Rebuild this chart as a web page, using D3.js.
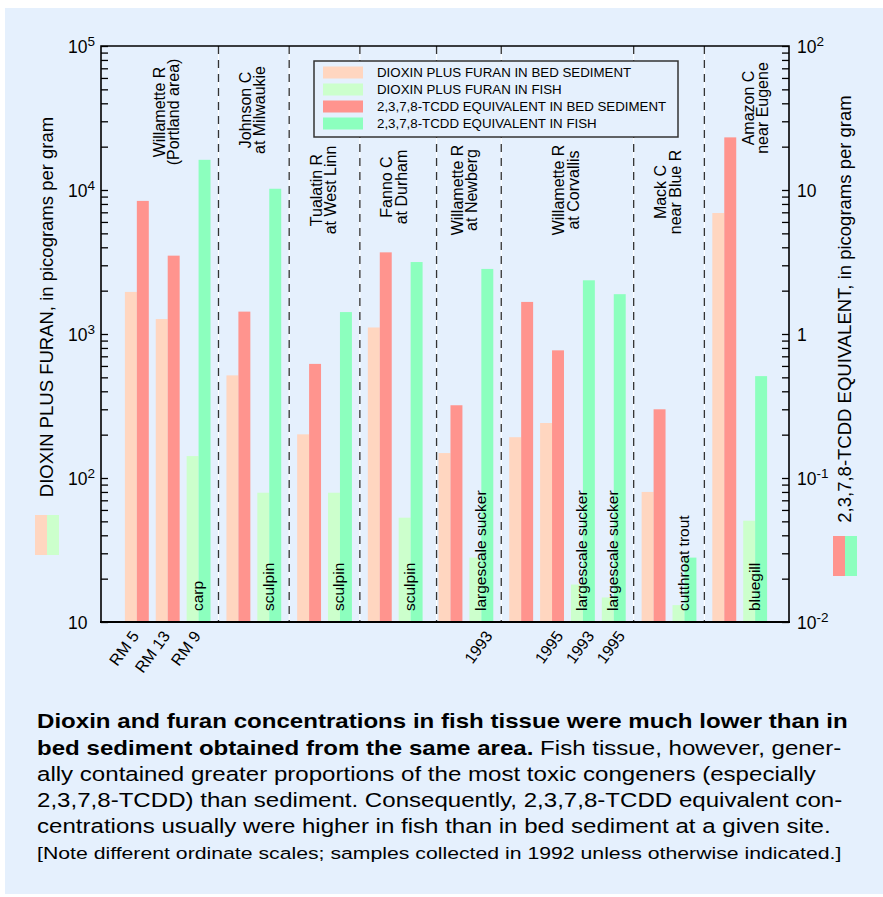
<!DOCTYPE html>
<html>
<head>
<meta charset="utf-8">
<script src="https://cdn.jsdelivr.net/npm/d3@7"></script>
<style>
  body { margin: 0; background: #fff; }
  svg { display: block; }
  text { font-family: "Liberation Sans", Arial, Helvetica, sans-serif; fill: #000; }
</style>
</head>
<body>
<svg id="chart" width="883" height="897"></svg>
<script>
// sites, one per group (two-line labels)
var siteNames = ["Willamette R", "Johnson C", "Tualatin R", "Fanno C", "Willamette R", "Willamette R", "Mack C", "Amazon C"];
var siteWhere = ["(Portland area)", "at Milwaukie", "at West Linn", "at Durham", "at Newberg", "at Corvallis", "near Blue R", "near Eugene"];

// samples, each drawn as a pair of bars
var sampleSite = [0, 0, 0, 1, 1, 2, 2, 3, 3, 4, 4, 5, 5, 5, 5, 6, 6, 7, 7];
var sampleMedium = ["sed", "sed", "fish", "sed", "fish", "sed", "fish", "sed", "fish", "sed", "fish",
                    "sed", "sed", "fish", "fish", "sed", "fish", "sed", "fish"];
var sampleLabel = ["RM 5", "RM 13", "RM 9", "", "", "", "", "", "", "", "1993",
                   "", "1995", "1993", "1995", "", "", "", ""];
var fishSpecies = ["", "", "carp", "", "sculpin", "", "sculpin", "", "sculpin", "", "largescale sucker",
                   "", "", "largescale sucker", "largescale sucker", "", "cutthroat trout", "", "bluegill"];

// picograms per gram
var dioxinFuran = [1960, 1270, 142, 516, 79, 201, 79, 1110, 53, 149, 28,
                   192, 241, 18.2, 14.8, 80, 13.1, 6920, 50.5];
var tcddEquiv = [8.4, 3.5, 16.2, 1.43, 10.2, 0.62, 1.42, 3.69, 3.16, 0.32, 2.83,
                 1.67, 0.77, 2.36, 1.89, 0.30, 0.028, 23.2, 0.51];

var leftTicks = [10, 100, 1000, 10000, 100000];
var leftTickLabels = ["10", "10^2", "10^3", "10^4", "10^5"];
var rightTicks = [0.01, 0.1, 1, 10, 100];
var rightTickLabels = ["10^-2", "10^-1", "1", "10", "10^2"];

var legendLabels = ["DIOXIN PLUS FURAN IN BED SEDIMENT", "DIOXIN PLUS FURAN IN FISH",
                    "2,3,7,8-TCDD EQUIVALENT IN BED SEDIMENT", "2,3,7,8-TCDD EQUIVALENT IN FISH"];

var captionBold = ["Dioxin and furan concentrations in fish tissue were much lower than in",
                   "bed sediment obtained from the same area."];
var captionText = [" Fish tissue, however, gener-",
                   "ally contained greater proportions of the most toxic congeners (especially",
                   "2,3,7,8-TCDD) than sediment. Consequently, 2,3,7,8-TCDD equivalent con-",
                   "centrations usually were higher in fish than in bed sediment at a given site."];
var captionNote = "[Note different ordinate scales; samples collected in 1992 unless otherwise indicated.]";

var colors = {
    sedDF: "#ffd6c0", fishDF: "#ccffcc",
    sedTE: "#ff948e", fishTE: "#8cffbe"
};
var legendColors = [colors.sedDF, colors.fishDF, colors.sedTE, colors.fishTE];

var svg = d3.select("#chart");
var pLeft = 101, pRight = 789, pTop = 46, pBottom = 622;

svg.append("rect").attr("x", 5).attr("y", 8).attr("width", 878).attr("height", 886)
    .attr("fill", "#e5f0fd");

// x layout: pairs 31 apart inside a site, 40 between sites
var barW = 12, u = 24, starts = [];
sampleSite.forEach(function(g, i) {
    if (i > 0) u += (g !== sampleSite[i - 1]) ? 16 : 7;
    starts.push(u);
    u += 2 * barW;
});
var x = d3.scaleLinear().domain([0, u + 22]).range([pLeft, pRight]);
var yL = d3.scaleLog().domain([10, 1e5]).range([pBottom, pTop]);
var yR = d3.scaleLog().domain([0.01, 100]).range([pBottom, pTop]);

var samples = sampleSite.map(function(g, i) {
    return {site: g, medium: sampleMedium[i], df: dioxinFuran[i], te: tcddEquiv[i],
            label: sampleLabel[i], fish: fishSpecies[i], x0: starts[i]};
});

// site separators
var sepNudge = [0, 0, 0, 6, 0, 0, 0];
var seps = [];
for (var i = 1; i < samples.length; i++) {
    if (samples[i].site !== samples[i - 1].site) {
        seps.push((x(samples[i - 1].x0 + 2 * barW) + x(samples[i].x0)) / 2 + sepNudge[seps.length]);
    }
}
svg.selectAll(".sepw").data(seps).enter().append("line")
    .attr("x1", function(d) { return d; }).attr("x2", function(d) { return d; })
    .attr("y1", pTop).attr("y2", pBottom)
    .attr("stroke", "#fff").attr("stroke-width", 1);
svg.selectAll(".sep").data(seps).enter().append("line")
    .attr("x1", function(d) { return d; }).attr("x2", function(d) { return d; })
    .attr("y1", pTop).attr("y2", pBottom)
    .attr("stroke", "#333").attr("stroke-width", 1.3).attr("stroke-dasharray", "8,6");

// bars
var pw = x(barW) - x(0);
svg.selectAll(".df").data(samples).enter().append("rect")
    .attr("x", function(d) { return x(d.x0); })
    .attr("y", function(d) { return yL(d.df); })
    .attr("width", pw)
    .attr("height", function(d) { return pBottom - yL(d.df); })
    .attr("fill", function(d) { return d.medium === "sed" ? colors.sedDF : colors.fishDF; });
svg.selectAll(".te").data(samples).enter().append("rect")
    .attr("x", function(d) { return x(d.x0 + barW); })
    .attr("y", function(d) { return yR(d.te); })
    .attr("width", pw)
    .attr("height", function(d) { return pBottom - yR(d.te); })
    .attr("fill", function(d) { return d.medium === "sed" ? colors.sedTE : colors.fishTE; });

// fish species inside bars
svg.selectAll(".fish").data(samples.filter(function(d) { return d.fish; })).enter().append("text")
    .attr("transform", function(d) { return "translate(" + (x(d.x0 + barW) + 4.5) + ",611) rotate(-90)"; })
    .attr("font-size", "15.5px")
    .text(function(d) { return d.fish; });

// sample labels below the axis
svg.selectAll(".slab").data(samples.filter(function(d) { return d.label; })).enter().append("text")
    .attr("transform", function(d) {
        var cx = x(d.x0 + barW) + (d.label.indexOf("RM") === 0 ? 3 : 12);
        return "translate(" + cx + ",636) rotate(-54)";
    })
    .attr("text-anchor", "end")
    .attr("font-size", "16px")
    .text(function(d) { return d.label; });

// site labels
var labelMidY = [112, 110, 190, 187, 190, 190, 192, 108];
var labelDX = [0, 0, 0, 0, 0, 0, 0, 17];
siteNames.forEach(function(name, g) {
    var inSite = samples.filter(function(d) { return d.site === g; });
    var cx = (x(inSite[0].x0) + x(inSite[inSite.length - 1].x0 + 2 * barW)) / 2 + labelDX[g];
    [name, siteWhere[g]].forEach(function(t, k) {
        svg.append("text")
            .attr("transform", "translate(" + (cx - 3 + k * 14.5) + "," + labelMidY[g] + ") rotate(-90)")
            .attr("text-anchor", "middle")
            .attr("font-size", "16px")
            .text(t);
    });
});

// axes: ticks point inward
svg.append("g").attr("transform", "translate(" + pLeft + ",0)")
    .call(d3.axisRight(yL).tickValues(yL.ticks()).tickSize(7).tickFormat(""))
    .call(function(g) { g.select(".domain").remove(); g.selectAll("line").attr("stroke", "#000").attr("stroke-width", 1.3); });
svg.append("g").attr("transform", "translate(" + pRight + ",0)")
    .call(d3.axisLeft(yR).tickValues(yR.ticks()).tickSize(7).tickFormat(""))
    .call(function(g) { g.select(".domain").remove(); g.selectAll("line").attr("stroke", "#000").attr("stroke-width", 1.3); });

// frame
svg.append("path")
    .attr("d", "M" + pLeft + "," + pBottom + "V" + pTop + "H" + pRight + "V" + pBottom)
    .attr("fill", "none").attr("stroke", "#000").attr("stroke-width", 1.6);
svg.append("line").attr("x1", pLeft - 1).attr("x2", pRight + 1).attr("y1", pBottom).attr("y2", pBottom)
    .attr("stroke", "#000").attr("stroke-width", 2.2);

function powerLabel(sel, s) {
    var p = s.split("^");
    sel.append("tspan").text(p[0]);
    if (p[1]) sel.append("tspan").attr("dy", -7).attr("font-size", "13.5px").text(p[1]);
}
leftTicks.forEach(function(v, i) {
    var t = svg.append("text").attr("x", 68).attr("y", yL(v) + 6.5).attr("font-size", "17.5px");
    powerLabel(t, leftTickLabels[i]);
});
rightTicks.forEach(function(v, i) {
    var t = svg.append("text").attr("x", 797).attr("y", yR(v) + 6.5).attr("font-size", "17.5px");
    powerLabel(t, rightTickLabels[i]);
});

// axis titles
svg.append("text").attr("transform", "translate(53,307) rotate(-90)")
    .attr("text-anchor", "middle").attr("font-size", "18.5px")
    .text("DIOXIN PLUS FURAN, in picograms per gram");
svg.append("text").attr("transform", "translate(851,309) rotate(-90)")
    .attr("text-anchor", "middle").attr("font-size", "18.5px")
    .text("2,3,7,8-TCDD EQUIVALENT, in picograms per gram");

// swatches beside the axis titles
[[35, 515, colors.sedDF, colors.fishDF], [833, 536, colors.sedTE, colors.fishTE]].forEach(function(s) {
    svg.append("rect").attr("x", s[0]).attr("y", s[1]).attr("width", 12).attr("height", 40).attr("fill", s[2]);
    svg.append("rect").attr("x", s[0] + 12).attr("y", s[1]).attr("width", 12).attr("height", 40).attr("fill", s[3]);
});

// legend
var lg = svg.append("g");
lg.append("rect").attr("x", 314).attr("y", 61).attr("width", 364).attr("height", 76)
    .attr("fill", "#e5f0fd").attr("stroke", "#333").attr("stroke-width", 1.5);
legendLabels.forEach(function(t, i) {
    var cy = 72.5 + i * 17;
    lg.append("rect").attr("x", 323).attr("y", cy - 6).attr("width", 40).attr("height", 12).attr("fill", legendColors[i]);
    lg.append("text").attr("x", 377).attr("y", cy + 4.8).attr("font-size", "13.3px").text(t);
});

// caption (the original type is set wider than Liberation Sans)
var cap = svg.append("g").attr("transform", "translate(37,0) scale(1.235,1)").attr("font-size", "19.5px");
cap.append("text").attr("x", 0).attr("y", 728).attr("font-weight", "bold").text(captionBold[0]);
var l2 = cap.append("text").attr("x", 0).attr("y", 755);
l2.append("tspan").attr("font-weight", "bold").text(captionBold[1]);
l2.append("tspan").text(captionText[0]);
captionText.slice(1).forEach(function(t, i) {
    cap.append("text").attr("x", 0).attr("y", 781 + i * 26).text(t);
});
cap.append("text").attr("x", 0).attr("y", 859).attr("font-size", "17.2px").text(captionNote);
</script>
</body>
</html>
